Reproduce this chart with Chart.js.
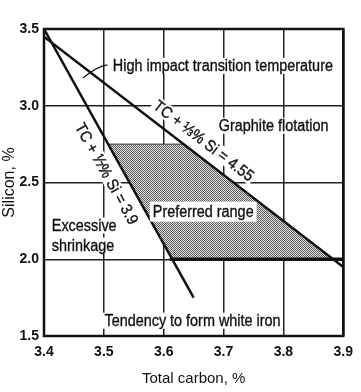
<!DOCTYPE html>
<html><head><meta charset="utf-8">
<script src="https://cdn.jsdelivr.net/npm/chart.js@4.4.1/dist/chart.umd.min.js"></script>
<style>html,body{margin:0;padding:0;background:#fff}#wrap{width:361px;height:392px}</style>
</head><body><div id="wrap"><canvas id="c" width="361" height="392"></canvas></div>
<script>
// ---- data ----
const xTicks = [3.4, 3.5, 3.6, 3.7, 3.8, 3.9];
const yTicks = [1.5, 2.0, 2.5, 3.0, 3.5];
const line455 = [{x:3.4, y:3.45}, {x:3.9, y:1.95}];   // TC + 1/3% Si = 4.55
const line39  = [{x:3.4, y:3.5}, {x:3.65, y:1.75}];   // TC + 1/7% Si = 3.9
const preferred = [{x:3.507, y:2.75}, {x:3.633, y:2.75}, {x:3.883, y:2.0}, {x:3.614, y:2.0}, {x:3.507, y:2.75}];
const bottomEdge = [{x:3.61, y:2.0}, {x:3.9, y:2.0}];
const labels = [
  {text:'High impact transition temperature', x:3.515, y:3.26, align:'left'},
  {text:'Graphite flotation', x:3.692, y:2.87, align:'left'},
  {text:'Preferred range', x:3.666, y:2.31, align:'center', box:true},
  {text:'Excessive', x:3.413, y:2.22, align:'left'},
  {text:'shrinkage', x:3.413, y:2.09, align:'left'},
  {text:'Tendency to form white iron', x:3.501, y:1.60, align:'left'}
];
const lineLabels = [
  {text:'TC + \u2153% Si = 4.55', x:3.667, y:2.773, along:0},
  {text:'TC + \u2150% Si = 3.9', x:3.505, y:2.558, along:1}
];
const leader = [{x:3.465, y:3.18}, {x:3.506, y:3.266}];

const FONT = "'Liberation Sans Narrow', 'Arial Narrow', 'Liberation Sans', sans-serif";
const SQ = 0.9; // horizontal condensing of annotation text

// dotted pattern
const pc = document.createElement('canvas'); pc.width = 2; pc.height = 2;
const pctx = pc.getContext('2d');
pctx.fillStyle = '#e4e4e4'; pctx.fillRect(0,0,2,2);
pctx.fillStyle = '#5a5a5a'; pctx.fillRect(0,0,1,1); pctx.fillRect(1,1,1,1);
const pattern = document.getElementById('c').getContext('2d').createPattern(pc, 'repeat');

function heavyText(ctx, t, x, y){
  ctx.fillText(t, x, y);
  ctx.lineWidth = 0.35; ctx.strokeStyle = ctx.fillStyle; ctx.strokeText(t, x, y);
}

const annot = {
  id:'annot',
  afterDatasetsDraw(chart){
    const {ctx, scales:{x, y}, chartArea:a} = chart;
    ctx.save();
    ctx.font = '16px ' + FONT;
    ctx.textBaseline = 'middle';
    for (const l of labels){
      const px = x.getPixelForValue(l.x), py = y.getPixelForValue(l.y);
      const w = ctx.measureText(l.text).width * SQ;
      let left = l.align === 'left' ? px : px - w/2;
      ctx.fillStyle = '#fff';
      if (l.box) ctx.fillRect(left - 3, py - 10, w + 6, 20);
      else ctx.fillRect(left - 2, py - 8, w + 4, 16);
      ctx.save();
      ctx.translate(left, py + 1); ctx.scale(SQ, 1);
      ctx.fillStyle = '#111';
      ctx.textAlign = 'left';
      heavyText(ctx, l.text, 0, 0);
      ctx.restore();
    }
    // rotated labels
    const lines = [line455, line39];
    for (const l of lineLabels){
      const L = lines[l.along];
      const ang = Math.atan2(y.getPixelForValue(L[1].y) - y.getPixelForValue(L[0].y),
                             x.getPixelForValue(L[1].x) - x.getPixelForValue(L[0].x));
      const px = x.getPixelForValue(l.x), py = y.getPixelForValue(l.y);
      ctx.save();
      ctx.translate(px, py); ctx.rotate(ang);
      const w = ctx.measureText(l.text).width * SQ;
      ctx.fillStyle = '#fff'; ctx.fillRect(-w/2 - 2, -8, w + 4, 16);
      ctx.scale(SQ, 1);
      ctx.fillStyle = '#111'; ctx.textAlign = 'center';
      heavyText(ctx, l.text, 0, 1);
      ctx.restore();
    }
    // leader
    const x0 = x.getPixelForValue(leader[0].x), y0 = y.getPixelForValue(leader[0].y);
    const x1 = x.getPixelForValue(leader[1].x), y1 = y.getPixelForValue(leader[1].y);
    ctx.strokeStyle = '#111'; ctx.lineWidth = 1.3;
    ctx.beginPath(); ctx.moveTo(x0, y0);
    ctx.quadraticCurveTo(x0 + (x1-x0)*0.6, y1 + 1, x1, y1); ctx.stroke();
    // frame
    ctx.lineWidth = 2.5; ctx.strokeStyle = '#111';
    ctx.strokeRect(a.left, a.top, a.right - a.left, a.bottom - a.top);
    ctx.restore();
  }
};

new Chart(document.getElementById('c'), {
  type:'scatter',
  data:{ datasets:[
    {data:preferred, showLine:true, fill:'shape', backgroundColor:pattern, borderColor:'#333', borderWidth:1, pointRadius:0, tension:0, order:3},
    {data:bottomEdge, showLine:true, borderColor:'#111', borderWidth:3.5, pointRadius:0, order:2},
    {data:line455, showLine:true, borderColor:'#111', borderWidth:2.5, pointRadius:0, order:1},
    {data:line39, showLine:true, borderColor:'#111', borderWidth:2.5, pointRadius:0, order:1}
  ]},
  options:{
    responsive:false, animation:false, devicePixelRatio:1,
    layout:{padding:{top:29, right:16, left:0, bottom:0}},
    plugins:{legend:{display:false}, tooltip:{enabled:false}},
    scales:{
      x:{ type:'linear', min:xTicks[0], max:xTicks[xTicks.length-1],
          afterBuildTicks(s){ s.ticks = xTicks.map(v=>({value:v})); },
          afterFit(s){ s.height = 56; },
          ticks:{ callback:v=>v.toFixed(1), color:'#111', font:{family:FONT, size:14, weight:'bold'}, padding:8 },
          grid:{ color:'#222', lineWidth:1.5, drawTicks:false },
          border:{display:false},
          title:{ display:true, text:'Total carbon, %', color:'#111', font:{family:FONT, size:15}, padding:{top:2} } },
      y:{ type:'linear', min:yTicks[0], max:yTicks[yTicks.length-1],
          afterBuildTicks(s){ s.ticks = yTicks.map(v=>({value:v})); },
          afterFit(s){ s.width = 44; },
          ticks:{ callback:v=>v.toFixed(1), color:'#111', font:{family:FONT, size:14, weight:'bold'}, padding:5 },
          grid:{ color:'#222', lineWidth:1.5, drawTicks:false },
          border:{display:false},
          title:{ display:true, text:'Silicon, %', color:'#111', font:{family:FONT, size:16}, padding:{bottom:1, top:0} } }
    }
  },
  plugins:[annot]
});
</script></body></html>
